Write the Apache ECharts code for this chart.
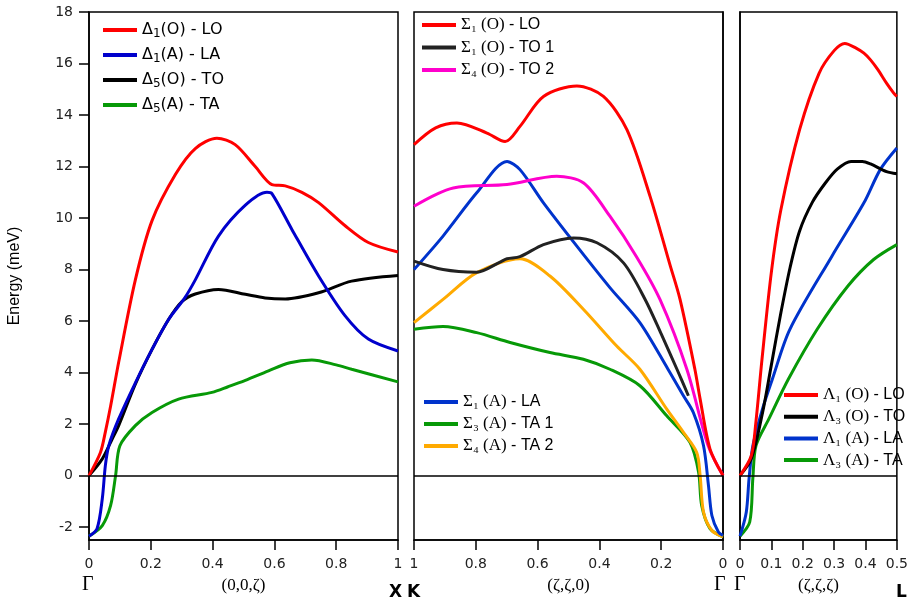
<!doctype html>
<html>
<head>
<meta charset="utf-8">
<title>phonon dispersion</title>
<style>
	body { margin: 0; background: #fff; }
	#main { width: 911px; height: 599px; }
</style>
<script src="https://cdn.jsdelivr.net/npm/echarts@6/dist/echarts.min.js"></script>
</head>
<body>
<div id="main"></div>
<script>
	// (0,0,ζ)  Γ -> X
	var dLO = [[0,0],[0.037,0.9],[0.053,1.7],[0.07,2.7],[0.096,4.4],[0.15,7.6],[0.204,9.9],[0.28,11.7],[0.344,12.7],[0.414,13.1],[0.473,12.85],[0.538,12.0],[0.592,11.3],[0.635,11.25],[0.689,11.0],[0.743,10.6],[0.829,9.7],[0.904,9.05],[1,8.68]];
	var dLA = [[0,-2.35],[0.026,-2.06],[0.043,-0.9],[0.053,0.4],[0.064,1.16],[0.096,2.2],[0.15,3.6],[0.204,4.9],[0.258,6.07],[0.31,6.9],[0.344,7.6],[0.419,9.3],[0.506,10.5],[0.576,11.0],[0.592,10.95],[0.657,9.55],[0.743,7.75],[0.829,6.2],[0.904,5.3],[1,4.84]];
	var dTO = [[0,0],[0.043,0.65],[0.075,1.42],[0.096,1.94],[0.15,3.55],[0.204,4.9],[0.258,6.07],[0.3,6.75],[0.344,7.05],[0.419,7.23],[0.506,7.04],[0.57,6.9],[0.635,6.86],[0.743,7.1],[0.85,7.55],[1,7.77]];
	var dTA = [[0,-2.35],[0.043,-1.94],[0.07,-1.16],[0.086,0],[0.1,1.16],[0.15,1.94],[0.204,2.45],[0.29,2.97],[0.398,3.23],[0.45,3.45],[0.506,3.7],[0.581,4.07],[0.65,4.38],[0.721,4.49],[0.8,4.3],[0.85,4.13],[1,3.64]];

	// (ζ,ζ,0)  K -> Γ
	var sLO = [[1,12.85],[0.93,13.5],[0.861,13.69],[0.764,13.3],[0.705,12.97],[0.657,13.56],[0.581,14.72],[0.473,15.13],[0.387,14.72],[0.311,13.43],[0.236,10.84],[0.172,8.2],[0.139,6.84],[0.091,4.13],[0.074,2.97],[0.042,1.03],[0,0]];
	var sTO1 = [[1,8.33],[0.906,8.0],[0.797,7.9],[0.72,8.3],[0.699,8.42],[0.657,8.5],[0.581,8.97],[0.484,9.23],[0.408,9.04],[0.322,8.26],[0.252,6.84],[0.2,5.5],[0.149,4.13],[0.112,3.1]];
	var sTO2 = [[1,10.46],[0.873,11.17],[0.699,11.3],[0.538,11.62],[0.451,11.36],[0.366,10.07],[0.28,8.5],[0.204,6.84],[0.117,4.13],[0.048,1.16],[0,0]];
	var sLA = [[1,8.0],[0.906,9.3],[0.797,10.98],[0.699,12.2],[0.657,11.88],[0.581,10.59],[0.473,8.91],[0.366,7.3],[0.269,5.94],[0.178,4.13],[0.128,3.1],[0.096,2.45],[0.063,1.16],[0.047,-0.39],[0.036,-1.55],[0.015,-2.19],[0,-2.32]];
	var sTA1 = [[1,5.68],[0.906,5.79],[0.797,5.55],[0.689,5.17],[0.56,4.78],[0.452,4.52],[0.366,4.13],[0.269,3.49],[0.182,2.32],[0.107,1.29],[0.079,0.13],[0.069,-1.16],[0.042,-2.06],[0,-2.38]];
	var sTA2 = [[1,5.94],[0.906,6.84],[0.797,7.88],[0.657,8.42],[0.56,7.75],[0.452,6.46],[0.344,5.03],[0.269,4.13],[0.182,2.58],[0.128,1.68],[0.085,0.9],[0.074,0],[0.063,-1.42],[0.036,-2.13],[0,-2.38]];

	// (ζ,ζ,ζ)  Γ -> L
	var lLO = [[0,0],[0.036,0.77],[0.05,2.0],[0.07,4.5],[0.1,7.9],[0.13,10.3],[0.19,13.43],[0.252,15.62],[0.3,16.5],[0.334,16.78],[0.37,16.6],[0.395,16.4],[0.416,16.14],[0.44,15.75],[0.467,15.24],[0.49,14.85],[0.5,14.72]];
	var lTO = [[0,0],[0.036,0.65],[0.072,2.45],[0.1,4.3],[0.13,6.3],[0.16,8.1],[0.19,9.5],[0.23,10.6],[0.272,11.36],[0.31,11.9],[0.354,12.2],[0.39,12.2],[0.416,12.1],[0.467,11.8],[0.5,11.72]];
	var lLA = [[0,-2.35],[0.02,-1.42],[0.029,-0.1],[0.041,1.16],[0.072,2.6],[0.103,3.74],[0.159,5.68],[0.293,8.52],[0.395,10.59],[0.447,11.88],[0.5,12.72]];
	var lTA = [[0,-2.35],[0.031,-1.8],[0.041,-0.1],[0.051,1.16],[0.092,2.2],[0.154,3.74],[0.246,5.68],[0.344,7.36],[0.426,8.39],[0.5,8.97]];

	var labels = {
		'D1O': '{n|Δ}{s|1}{n|(O) - LO}', 'D1A': '{n|Δ}{s|1}{n|(A) - LA}', 'D5O': '{n|Δ}{s|5}{n|(O) - TO}', 'D5A': '{n|Δ}{s|5}{n|(A) - TA}',
		'S1O': '{g|Σ₁ (O)}{t| - LO}', 'S1O2': '{g|Σ₁ (O)}{t| - TO 1}', 'S4O': '{g|Σ₄ (O)}{t| - TO 2}',
		'S1A': '{g|Σ₁ (A)}{t| - LA}', 'S3A': '{g|Σ₃ (A)}{t| - TA 1}', 'S4A': '{g|Σ₄ (A)}{t| - TA 2}',
		'L1O': '{g|Λ₁ (O)}{t| - LO}', 'L3O': '{g|Λ₃ (O)}{t| - TO}', 'L1A': '{g|Λ₁ (A)}{t| - LA}', 'L3A': '{g|Λ₃ (A)}{t| - TA}'
	};

	var RED = '#ff0000', BLUE = '#0000cc', BLUE2 = '#0033cc', BLACK = '#000000', DARK = '#222222',
		GREEN = '#079907', MAG = '#ff00cc', ORANGE = '#ffaa00';

	var myChart = echarts.init(document.getElementById('main'));

	var sans = 'DejaVu Sans';
	var serif = 'Liberation Serif';
	var richText = {
		n: { fontFamily: sans, fontSize: 16, color: '#000' },
		s: { fontFamily: sans, fontSize: 12, color: '#000', padding: [8, 0, 0, 0] },
		g: { fontFamily: serif, fontSize: 17, color: '#000' },
		t: { fontFamily: 'Liberation Sans', fontSize: 16, color: '#000' }
	};

	function line(name, data, color, idx) {
		return {
			name: name, type: 'line', data: data, xAxisIndex: idx, yAxisIndex: idx,
			smooth: 0.3, showSymbol: false, symbol: 'none',
			lineStyle: { color: color, width: 3 }, itemStyle: { color: color },
			emphasis: { disabled: true }, animation: false
		};
	}
	function zero(s) {
		s.markLine = {
			silent: true, symbol: 'none', label: { show: false }, animation: false,
			lineStyle: { color: '#000', width: 1.5, type: 'solid' },
			data: [{ yAxis: 0 }]
		};
		return s;
	}

	function xAxis(idx, min, max, interval, inverse, name) {
		return {
			type: 'value', gridIndex: idx, min: min, max: max, interval: interval, inverse: inverse,
			name: name, nameLocation: 'middle', nameGap: 37,
			nameTextStyle: { fontFamily: serif, fontSize: 17, color: '#000' },
			axisLine: { show: true, onZero: false, lineStyle: { color: '#000', width: 1.5 } },
			axisTick: { show: true, inside: false, length: 10, lineStyle: { color: '#000', width: 1.5 } },
			axisLabel: { margin: 17, fontFamily: sans, fontSize: 14, color: '#222',
				formatter: function (v) { return String(+v.toFixed(2)); } },
			splitLine: { show: false }
		};
	}
	function yAxis(idx, showLabels) {
		return {
			type: 'value', gridIndex: idx, min: -2.5, max: 18, splitNumber: 10,
			name: showLabels ? 'Energy (meV)' : '', nameLocation: 'middle', nameGap: 66,
			nameTextStyle: { fontFamily: 'Liberation Sans', fontSize: 16, color: '#000' },
			axisLine: { show: true, lineStyle: { color: '#000', width: 1.5 } },
			axisTick: { show: showLabels, length: 10, lineStyle: { color: '#000', width: 1.5 } },
			axisLabel: { show: showLabels, showMinLabel: false, margin: 16, fontFamily: sans, fontSize: 14, color: '#222' },
			splitLine: { show: false }
		};
	}
	function legend(names, left, top, gap) {
		return {
			data: names, left: left, top: top, orient: 'vertical', padding: 0,
			icon: 'rect', itemWidth: 34, itemHeight: 4, itemGap: gap, selectedMode: false,
			formatter: function (n) { return labels[n]; },
			textStyle: { fontFamily: sans, fontSize: 16, color: '#000', lineHeight: 18, rich: richText }
		};
	}

	var option = {
		backgroundColor: '#fff',
		animation: false,
		grid: [
			{ left: 89, top: 12, width: 309, height: 529, show: true, borderColor: '#000', borderWidth: 1.5 },
			{ left: 414, top: 12, width: 309, height: 529, show: true, borderColor: '#000', borderWidth: 1.5 },
			{ left: 740, top: 12, width: 162, height: 529, show: true, borderColor: '#000', borderWidth: 1.5 }
		],
		xAxis: [
			xAxis(0, 0, 1, 0.2, false, '(0,0,ζ)'),
			xAxis(1, 0, 1, 0.2, true, '(ζ,ζ,0)'),
			xAxis(2, 0, 0.5, 0.1, false, '(ζ,ζ,ζ)')
		],
		yAxis: [yAxis(0, true), yAxis(1, false), yAxis(2, false)],
		legend: [
			legend(['D1O', 'D1A', 'D5O', 'D5A'], 103, 21, 6),
			legend(['S1O', 'S1O2', 'S4O'], 422, 16, 4.5),
			legend(['S1A', 'S3A', 'S4A'], 424, 393, 4),
			legend(['L1O', 'L3O', 'L1A', 'L3A'], 784, 386, 3.7)
		],
		graphic: [
			{ type: 'text', left: 82, top: 575, style: { text: 'Γ', font: '20px "Liberation Serif"', fill: '#000' } },
			{ type: 'text', left: 389, top: 584, style: { text: 'X', font: 'bold 17px "DejaVu Sans"', fill: '#000' } },
			{ type: 'text', left: 407, top: 584, style: { text: 'K', font: 'bold 17px "DejaVu Sans"', fill: '#000' } },
			{ type: 'text', left: 714, top: 575, style: { text: 'Γ', font: '20px "Liberation Serif"', fill: '#000' } },
			{ type: 'text', left: 734, top: 575, style: { text: 'Γ', font: '20px "Liberation Serif"', fill: '#000' } },
			{ type: 'text', left: 896, top: 584, style: { text: 'L', font: 'bold 17px "DejaVu Sans"', fill: '#000' } }
		],
		series: [
			zero(line('D5A', dTA, GREEN, 0)),
			line('D5O', dTO, BLACK, 0),
			line('D1A', dLA, BLUE, 0),
			line('D1O', dLO, RED, 0),
			zero(line('S3A', sTA1, GREEN, 1)),
			line('S4A', sTA2, ORANGE, 1),
			line('S1A', sLA, BLUE2, 1),
			line('S1O2', sTO1, DARK, 1),
			line('S4O', sTO2, MAG, 1),
			line('S1O', sLO, RED, 1),
			zero(line('L3A', lTA, GREEN, 2)),
			line('L1A', lLA, BLUE2, 2),
			line('L3O', lTO, BLACK, 2),
			line('L1O', lLO, RED, 2)
		]
	};
	myChart.setOption(option);
</script>
</body>
</html>
